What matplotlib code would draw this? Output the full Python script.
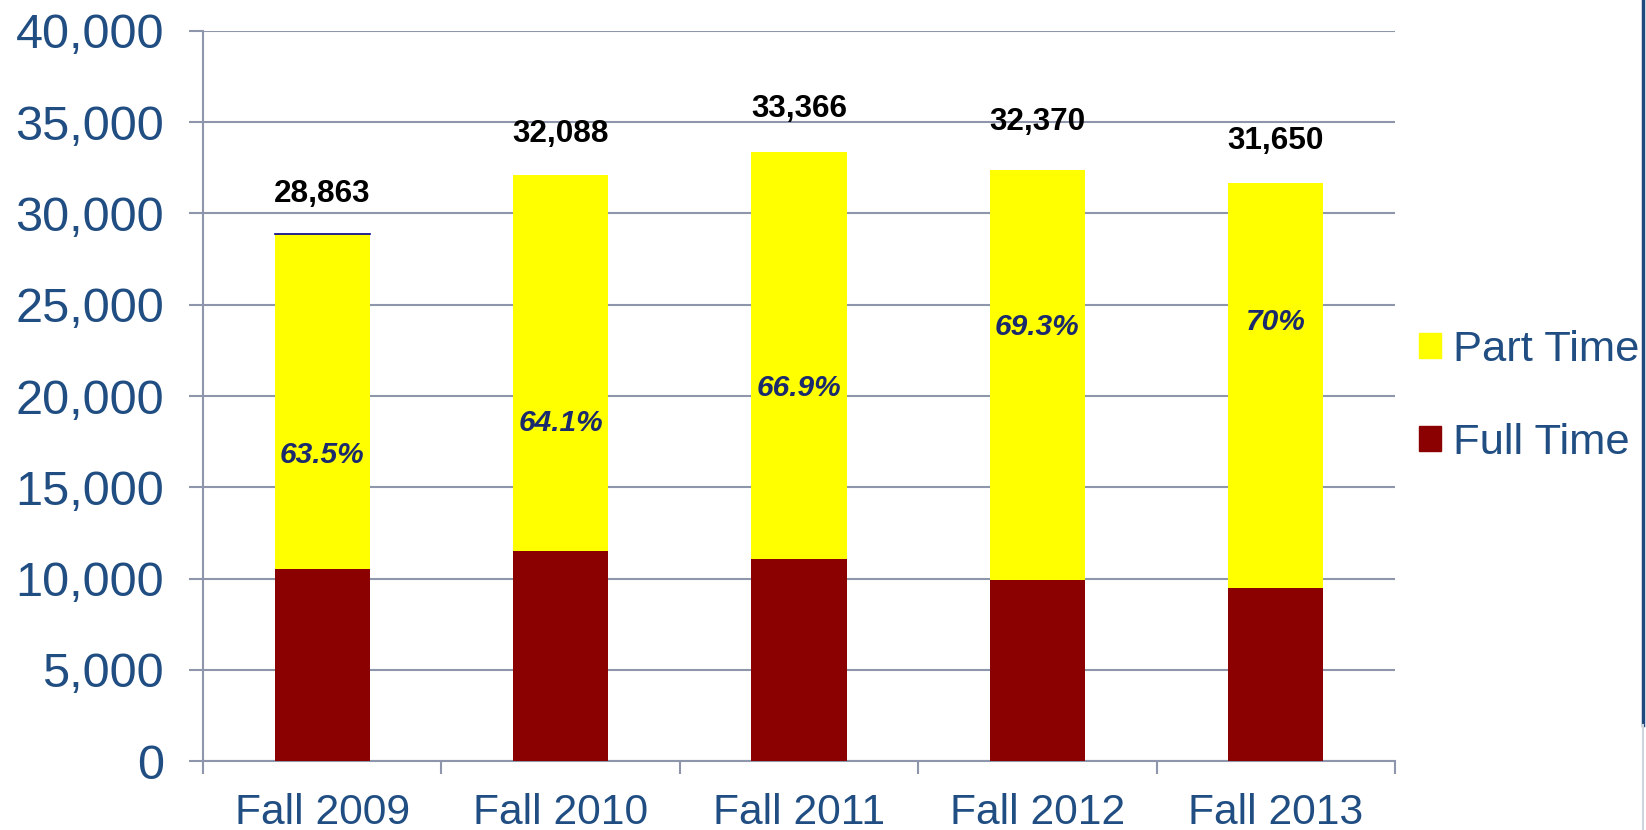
import numpy as np
import matplotlib
matplotlib.use('Agg')
import matplotlib.pyplot as plt
import matplotlib.patches as mpatches
import matplotlib.lines as mlines

plt.rcParams['font.family'] = ['Liberation Sans', 'DejaVu Sans']

# data
terms = ['Fall 2009', 'Fall 2010', 'Fall 2011', 'Fall 2012', 'Fall 2013']
totals = [28863, 32088, 33366, 32370, 31650]
full_time = [10535, 11520, 11044, 9938, 9495]
part_time = [18328, 20568, 22322, 22432, 22155]
pct_labels = ['63.5%', '64.1%', '66.9%', '69.3%', '70%']
pct_label_y = [16780, 18540, 20450, 23790, 24070]
total_label_y = [31080, 34350, 35720, 35040, 33950]

navy = '#214E82'
grid_c = '#8D96AB'
yellow = '#FFFF00'
darkred = '#8B0000'

fig = plt.figure(figsize=(16.46, 8.30), dpi=100)
ax = fig.add_axes([203 / 1646, 69 / 830, 1192 / 1646, 730 / 830])

x = np.arange(len(terms))
ax.bar(x, full_time, width=0.4, color=darkred, zorder=3)
ax.bar(x, part_time, width=0.4, bottom=full_time, color=yellow, zorder=3)
# thin dark line on top of the first bar
ax.plot([x[0] - 0.2, x[0] + 0.2], [totals[0], totals[0]], color='#00008B', lw=1.2, zorder=4)

for i in range(len(terms)):
    ax.text(x[i], total_label_y[i], f'{totals[i]:,}', ha='center', va='center',
            fontsize=22.7, fontweight='bold', color='black', zorder=5)
    ax.text(x[i], pct_label_y[i], pct_labels[i], ha='center', va='center',
            fontsize=21.5, fontweight='bold', fontstyle='italic', color='#1A2A6C', zorder=5)

ax.set_xlim(-0.5, 4.5)
ax.set_ylim(0, 40000)
ax.set_yticks(np.arange(0, 40001, 5000))
ax.set_yticklabels([f'{v:,}' for v in range(0, 40001, 5000)])
ax.yaxis.grid(True, color=grid_c, lw=1.5, zorder=0)
ax.set_axisbelow(True)

ax.set_xticks(x)
ax.set_xticklabels(terms)
ax.set_xticks(np.arange(-0.5, 5, 1), minor=True)
ax.tick_params(axis='x', which='major', length=0, pad=23, labelsize=30.7, labelcolor=navy)
ax.tick_params(axis='x', which='minor', length=9, width=1.5, color=grid_c, direction='out')
ax.tick_params(axis='y', length=10, width=1.5, color=grid_c, pad=18, labelsize=35, labelcolor=navy)

for s in ['top', 'right']:
    ax.spines[s].set_visible(False)
for s in ['left', 'bottom']:
    ax.spines[s].set_color(grid_c)
    ax.spines[s].set_linewidth(1.5)

# legend
handles = [mpatches.Patch(color=yellow), mpatches.Patch(color=darkred)]
fig.legend(handles, ['Part Time', 'Full Time'], loc='center left',
           bbox_to_anchor=(1419 / 1646, 0.522), frameon=False, fontsize=31.3,
           labelcolor=navy, handlelength=0.5, handleheight=0.5,
           handletextpad=0.28, labelspacing=1.22, borderpad=0, borderaxespad=0)

# slide border on the right edge
fig.add_artist(mlines.Line2D([1643 / 1646, 1643 / 1646], [1.0, 105 / 830],
                             transform=fig.transFigure, color='#1F497D', lw=2.5))
fig.add_artist(mlines.Line2D([1643 / 1646, 1643 / 1646], [105 / 830, 0.0],
                             transform=fig.transFigure, color='#D0D4DC', lw=1.5))

plt.savefig('out.png', dpi=100)
